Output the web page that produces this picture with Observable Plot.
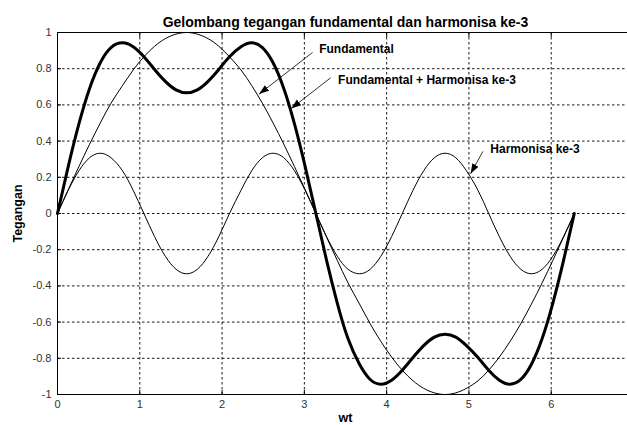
<!DOCTYPE html>
<html><head><meta charset="utf-8">
<script src="https://cdn.jsdelivr.net/npm/d3@7"></script>
<script src="https://cdn.jsdelivr.net/npm/@observablehq/plot@0.6"></script>
<style>body{margin:0;background:#fff} svg{display:block}</style>
</head><body><div id="chart"></div><script>
const titleText = "Gelombang tegangan fundamental dan harmonisa ke-3";
const xLabel = "wt";
const yLabel = "Tegangan";

const wt = [0,0.13,0.26,0.39,0.52,0.65,0.79,0.92,1.05,1.18,1.31,1.44,1.57,1.70,1.83,1.96,2.09,2.23,2.36,2.49,2.62,2.75,2.88,3.01,3.14,3.27,3.40,3.53,3.67,3.80,3.93,4.06,4.19,4.32,4.45,4.58,4.71,4.84,4.97,5.11,5.24,5.37,5.50,5.63,5.76,5.89,6.02,6.15,6.28];
const fundamental = [0,0.131,0.259,0.383,0.5,0.609,0.707,0.793,0.866,0.924,0.966,0.991,1,0.991,0.966,0.924,0.866,0.793,0.707,0.609,0.5,0.383,0.259,0.131,0,-0.131,-0.259,-0.383,-0.5,-0.609,-0.707,-0.793,-0.866,-0.924,-0.966,-0.991,-1,-0.991,-0.966,-0.924,-0.866,-0.793,-0.707,-0.609,-0.5,-0.383,-0.259,-0.131,0];
const harmonic = [0,0.128,0.236,0.308,0.333,0.308,0.236,0.128,0,-0.128,-0.236,-0.308,-0.333,-0.308,-0.236,-0.128,0,0.128,0.236,0.308,0.333,0.308,0.236,0.128,0,-0.128,-0.236,-0.308,-0.333,-0.308,-0.236,-0.128,0,0.128,0.236,0.308,0.333,0.308,0.236,0.128,0,-0.128,-0.236,-0.308,-0.333,-0.308,-0.236,-0.128,0];
const combined = [0,0.259,0.495,0.691,0.833,0.917,0.943,0.921,0.866,0.796,0.730,0.683,0.667,0.683,0.730,0.796,0.866,0.921,0.943,0.917,0.833,0.691,0.495,0.259,0,-0.259,-0.495,-0.691,-0.833,-0.917,-0.943,-0.921,-0.866,-0.796,-0.730,-0.683,-0.667,-0.683,-0.730,-0.796,-0.866,-0.921,-0.943,-0.917,-0.833,-0.691,-0.495,-0.259,0];

const xTicks = [0,1,2,3,4,5,6];
const yTicks = [-1,-0.8,-0.6,-0.4,-0.2,0,0.2,0.4,0.6,0.8,1];
const xGrid = [1,2,3,4,5,6];
const yGrid = [-0.8,-0.6,-0.4,-0.2,0,0.2,0.4,0.6,0.8];

const annoText = ["Fundamental","Fundamental + Harmonisa ke-3","Harmonisa ke-3"];
const annoTextX = [3.18,3.41,5.26];
const annoTextY = [0.91,0.735,0.354];
const arrowFromX = [3.10,3.32,5.17];
const arrowFromY = [0.89,0.75,0.343];
const arrowToX = [2.45,2.84,5.02];
const arrowToY = [0.66,0.58,0.22];

const rows = wt.map((x,i)=>({x, f: fundamental[i], h: harmonic[i], c: combined[i]}));
const anno = annoText.map((t,i)=>({t, x: annoTextX[i], y: annoTextY[i], x1: arrowFromX[i], y1: arrowFromY[i], x2: arrowToX[i], y2: arrowToY[i]}));

const font = "Liberation Sans, Arial, Helvetica, sans-serif";
const plot = Plot.plot({
  width: 627, height: 425,
  marginLeft: 57, marginRight: -6, marginTop: 32, marginBottom: 31,
  style: {fontFamily: font, fontSize: "11px", background: "#fff", overflow: "hidden"},
  x: {domain: [0,7]},
  y: {domain: [-1,1]},
  marks: [
    Plot.gridX(xGrid, {stroke: "#000", strokeOpacity: 1, strokeDasharray: "2.5,2.5", strokeWidth: 0.9}),
    Plot.gridY(yGrid, {stroke: "#000", strokeOpacity: 1, strokeDasharray: "2.5,2.5", strokeWidth: 0.9}),
    Plot.axisX({ticks: xTicks, tickSize: -4, tickPadding: 10, tickFormat: d => String(d), label: null, fill: "#333"}),
    Plot.axisX({anchor: "top", ticks: xGrid, tickSize: -4, tickFormat: () => "", label: null}),
    Plot.axisY({ticks: yTicks, tickSize: -4, tickPadding: 10, tickFormat: d => String(d), label: null, fill: "#333"}),
    Plot.frame({stroke: "#000"}),
    Plot.line(rows, {x: "x", y: "f", curve: "natural", stroke: "#000", strokeWidth: 1}),
    Plot.line(rows, {x: "x", y: "h", curve: "natural", stroke: "#000", strokeWidth: 1}),
    Plot.line(rows, {x: "x", y: "c", curve: "natural", stroke: "#000", strokeWidth: 3}),
    Plot.link(anno, {x1: "x1", y1: "y1", x2: "x2", y2: "y2", stroke: "#000", strokeWidth: 0.8, className: "anno-arrow"}),
    Plot.text(anno, {x: "x", y: "y", text: "t", textAnchor: "start", fontWeight: "bold", fontSize: 12, fill: "#000"}),
    Plot.text([titleText], {frameAnchor: "top", dy: -15, fontWeight: "bold", fontSize: 14, fill: "#000"}),
    Plot.text([xLabel], {frameAnchor: "bottom", dy: 27, fontWeight: "bold", fontSize: 12.5, fill: "#000"}),
    Plot.text([yLabel], {frameAnchor: "left", dx: -40, rotate: -90, textAnchor: "middle", fontWeight: "bold", fontSize: 12.5, fill: "#000"})
  ]
});
const svg = d3.select(plot);
const defs = svg.append("defs");
defs.append("marker").attr("id","ahead").attr("viewBox","-10 -4 10 8").attr("markerWidth",10).attr("markerHeight",8)
  .attr("refX",0).attr("refY",0).attr("orient","auto").attr("markerUnits","userSpaceOnUse")
  .append("path").attr("d","M-10,-3.5L0,0L-10,3.5Z").attr("fill","#000");
svg.selectAll("g.anno-arrow path").attr("marker-end","url(#ahead)");
document.getElementById("chart").appendChild(plot);
</script></body></html>
